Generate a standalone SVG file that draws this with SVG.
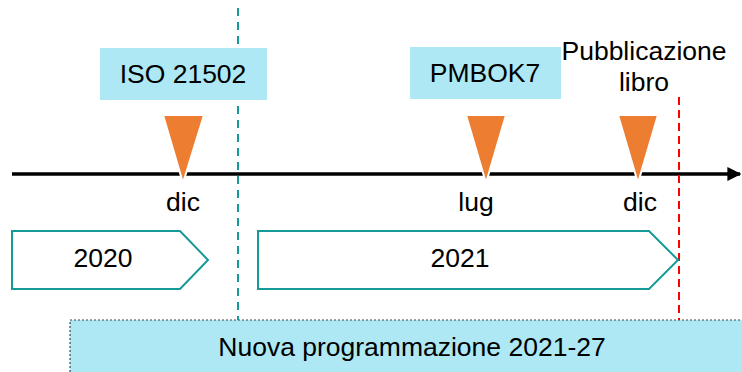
<svg xmlns="http://www.w3.org/2000/svg" width="742" height="372" viewBox="0 0 742 372">
<defs>
<style>
text{font-family:"Liberation Sans",Arial,sans-serif;fill:#000;text-anchor:middle}
.lbl{font-size:26.5px}
.box{fill:#ADE8F4}
.tri{fill:#ED7D31;stroke:#fff;stroke-width:2}
.pent{fill:#fff;stroke:#159A98;stroke-width:2}
</style>
<marker id="ah" viewBox="0 0 10 10" refX="9" refY="5" markerWidth="4" markerHeight="4.2" orient="auto" markerUnits="strokeWidth">
<path d="M0,0 L10,5 L0,10 z" fill="#000"/>
</marker>
</defs>
<g id="bottom-box">
<rect x="70" y="320" width="680" height="60" class="box" stroke="#444" stroke-width="1.2" stroke-dasharray="2,2"/>
<text x="412" y="356" class="lbl">Nuova programmazione 2021-27</text>
</g>
<g id="connectors">
<line x1="12" y1="174" x2="740" y2="174" stroke="#000" stroke-width="3.5" marker-end="url(#ah)"/>
<line x1="238" y1="8" x2="238" y2="320" stroke="#159A98" stroke-width="2" stroke-dasharray="8,6"/>
<line x1="679" y1="97" x2="679" y2="320" stroke="#FF0000" stroke-width="2" stroke-dasharray="8,5"/>
</g>
<g id="iso">
<rect x="100" y="48" width="167" height="52" class="box"/>
<text x="183" y="83" class="lbl">ISO 21502</text>
</g>
<g id="pmbok">
<rect x="410" y="47" width="151" height="52" class="box"/>
<text x="485" y="82" class="lbl">PMBOK7</text>
</g>
<g id="pubblicazione">
<text x="644" y="60" class="lbl">Pubblicazione</text>
<text x="644" y="91" class="lbl">libro</text>
</g>
<g id="m-dic2020">
<polygon points="163,115 204,115 183,183" class="tri"/>
<text x="183" y="211" class="lbl">dic</text>
</g>
<g id="m-lug">
<polygon points="466,115 506,115 486,183" class="tri"/>
<text x="476" y="211" class="lbl">lug</text>
</g>
<g id="m-dic2021">
<polygon points="618,115 658,115 638,183" class="tri"/>
<text x="640" y="211" class="lbl">dic</text>
</g>
<g id="y2020">
<polygon points="12,231 180,231 208,260 180,289 12,289" class="pent"/>
<text x="103" y="267" class="lbl">2020</text>
</g>
<g id="y2021">
<polygon points="258,231 649,231 678,260 649,289 258,289" class="pent"/>
<text x="460" y="267" class="lbl">2021</text>
</g>
</svg>
